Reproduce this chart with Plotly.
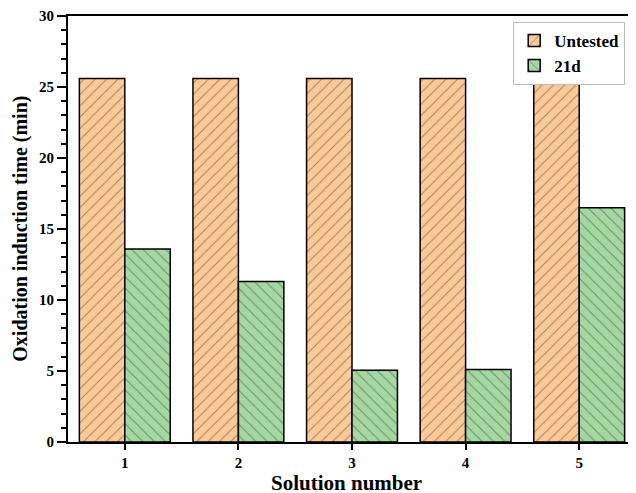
import plotly.graph_objects as go

categories = ["1", "2", "3", "4", "5"]
untested = [25.6, 25.6, 25.6, 25.6, 25.6]
d21 = [13.6, 11.3, 5.05, 5.1, 16.5]

font_family = "Liberation Serif, Times New Roman, serif"

fig = go.Figure()
fig.add_trace(go.Bar(
    x=categories, y=untested, name="Untested",
    marker=dict(color="#FDCA96", line=dict(color="black", width=1.5),
                pattern=dict(shape="/", fgcolor="#444444", size=8, solidity=0.14)),
))
fig.add_trace(go.Bar(
    x=categories, y=d21, name="21d",
    marker=dict(color="#A3D9A0", line=dict(color="black", width=1.5),
                pattern=dict(shape="\\", fgcolor="#444444", size=8, solidity=0.14)),
))

# page body has an 8px margin, so the figure is shifted by 8px; compensate
fig.update_layout(
    width=628, height=485,
    margin=dict(l=60, r=0, t=8, b=51, autoexpand=False),
    plot_bgcolor="white", paper_bgcolor="white",
    barmode="group", bargap=0.2, bargroupgap=0,
    font=dict(family=font_family, color="black", size=15, weight="bold"),
    showlegend=True,
    legend=dict(x=0.981, y=0.986, xanchor="right", yanchor="top",
                bordercolor="#BBBBBB", borderwidth=1, bgcolor="white",
                font=dict(size=17, family=font_family, weight="bold"),
                tracegroupgap=0, itemwidth=30),
    xaxis=dict(
        range=[-0.5, 4.5], showline=True, linecolor="black", linewidth=2,
        mirror=True, ticks="outside", ticklen=6, tickwidth=1.5, tickcolor="black",
        automargin=False,
        tickfont=dict(size=15, family=font_family, weight="bold"),
    ),
    yaxis=dict(
        range=[0, 30], dtick=5, showline=True, linecolor="black", linewidth=2,
        showgrid=False, zeroline=False, automargin=False,
        ticks="outside", ticklen=9, tickwidth=1.5, tickcolor="black",
        minor=dict(dtick=1, ticks="outside", ticklen=5, tickwidth=1.5, tickcolor="black", showgrid=False),
        tickfont=dict(size=15, family=font_family, weight="bold"),
    ),
    annotations=[
        dict(text="Solution number", xref="paper", yref="paper", x=0.49, y=-0.097,
             xanchor="center", yanchor="middle", showarrow=False,
             font=dict(size=21, family=font_family, weight="bold")),
        dict(text="Oxidation induction time (min)", xref="paper", yref="paper",
             x=-0.085, y=0.5, xanchor="center", yanchor="middle", textangle=-90,
             showarrow=False, font=dict(size=20, family=font_family, weight="bold")),
    ],
)

fig.write_html("out.html")
